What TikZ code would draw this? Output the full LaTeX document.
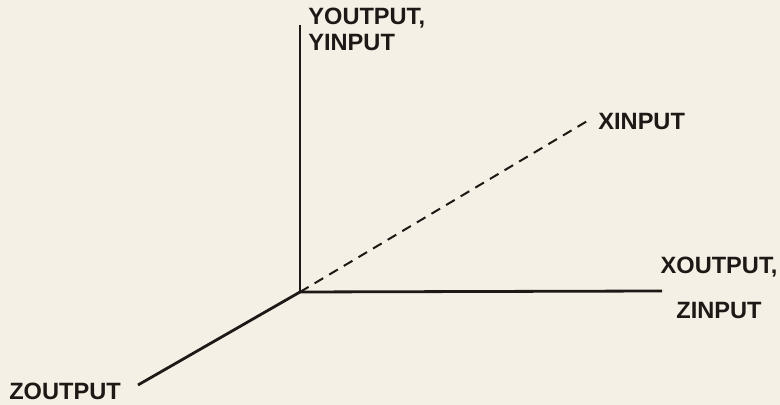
\documentclass[tikz,border=0pt]{standalone}
\usepackage{fontspec}
\setmainfont{Liberation Sans}
\usetikzlibrary{positioning}
\definecolor{paper}{RGB}{245,240,229}
\definecolor{ink}{RGB}{30,24,22}
\begin{document}
\begin{tikzpicture}[x=0.5pt,y=0.5pt,
  axis/.style={draw=ink,line width=1.4pt},
  hidden/.style={draw=ink,line width=1pt,dash pattern=on 5pt off 3.5pt},
  lbl/.style={font=\bfseries\fontsize{11.8}{13}\selectfont,text=ink,inner sep=0pt}
]
\fill[paper] (0,0) rectangle (780,405);
\useasboundingbox (0,0) rectangle (780,405);

\coordinate (O) at (300,113);
\coordinate (ytip) at (300,380);
\coordinate (xtip) at (662,114);
\coordinate (dtip) at (589,285);
\coordinate (ztip) at (138,20);

\node[lbl,align=left,anchor=north west] (ylab) at (308,397) {YOUTPUT,\\YINPUT};
\node[lbl,anchor=west] (dlab) at (598,283.5) {XINPUT};
\node[lbl,align=center,anchor=north] (xlab) at (719,148) {XOUTPUT,\\[9.5pt]ZINPUT};
\node[lbl] (zlab) at (65,14) {ZOUTPUT};

\draw[axis] (O) -- (ytip);
\draw[axis] (O) -- (xtip);
\draw[axis] (O) -- (ztip);
\draw[hidden] (O) -- (dtip);
\end{tikzpicture}
\end{document}
